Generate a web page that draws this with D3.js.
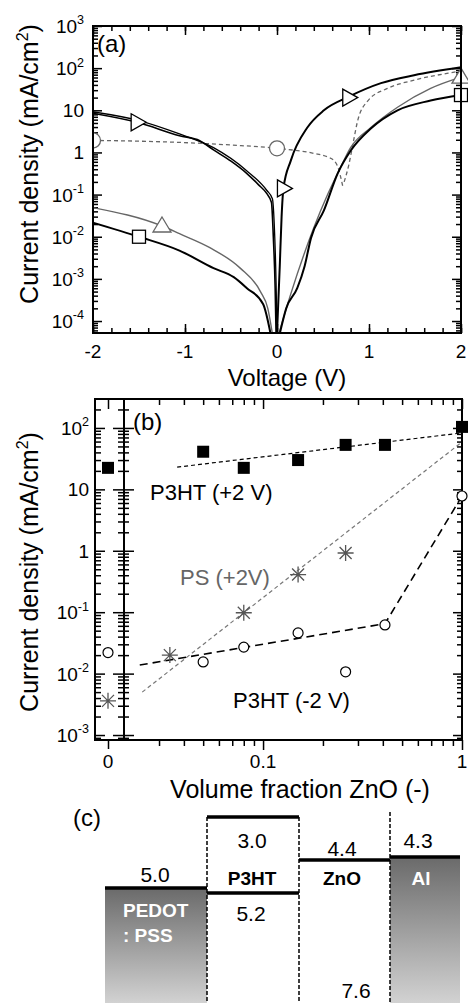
<!DOCTYPE html>
<html><head><meta charset="utf-8">
<script src="https://cdn.jsdelivr.net/npm/d3@7/dist/d3.min.js"></script>
<style>
html,body{margin:0;padding:0;background:#fff;}
svg{display:block;font-family:"Liberation Sans",Arial,Helvetica,sans-serif;}
</style></head>
<body>
<svg id="chart" width="468" height="1003"></svg>
<script>
// ===== Panel (a): current density vs voltage =====
const voltTicks = [-2, -1, 0, 1, 2];
const voltTickLabels = ["-2", "-1", "0", "1", "2"];
const jTicksA = [1e-4, 1e-3, 1e-2, 1e-1, 1, 10, 100, 1000];
const jTickLabelsA = ["10^-4", "10^-3", "10^-2", "10^-1", "1", "10", "10^2", "10^3"];

// black curve with right-pointing triangles (two sweeps on the reverse side)
const triNeg = [[-2, 8.5], [-1.52, 5.2], [-1.06, 2.5], [-0.84, 1.9], [-0.69, 1.15], [-0.5, 0.62], [-0.33, 0.32], [-0.2, 0.17], [-0.11, 0.105], [-0.06, 0.065], [-0.04, 0.01], [-0.02, 0.0006], [-0.01, 5e-5]];
const triNeg2 = [[-2, 9.2], [-1.5, 5.7], [-1.06, 2.75], [-0.69, 1.3], [-0.33, 0.37], [-0.11, 0.125], [-0.05, 0.08], [-0.03, 0.02], [-0.01, 0.0008], [0.0, 5e-5]];
const triPos = [[0.0, 5e-5], [0.03, 0.002], [0.05, 0.03], [0.07, 0.14], [0.15, 0.64], [0.33, 3.9], [0.51, 10], [0.78, 21], [1.13, 44], [1.49, 68], [2, 105]];
const triMarks = [[-1.52, 5.2], [0.07, 0.14], [0.78, 20]];

// black curve with squares
const sqNeg = [[-2, 0.0216], [-1.5, 0.01], [-1.06, 0.0047], [-0.69, 0.0018], [-0.47, 0.0011], [-0.33, 6.1e-4], [-0.15, 2.5e-4], [-0.07, 5e-5]];
const sqPos = [[0.03, 5e-5], [0.1, 2e-4], [0.22, 6e-4], [0.3, 0.002], [0.37, 0.0094], [0.51, 0.042], [0.66, 0.32], [0.8, 1.1], [1.02, 3.7], [1.31, 10], [1.67, 17], [2, 23]];
const sqMarks = [[-1.5, 0.01], [2, 23]];

// grey curve with up triangles
const gtriNeg = [[-2, 0.049], [-1.25, 0.018], [-1.06, 0.0118], [-0.73, 0.0055], [-0.4, 0.0018], [-0.18, 5e-4], [-0.1, 2e-4], [-0.05, 5e-5]];
const gtriPos = [[0.02, 5e-5], [0.15, 4.4e-4], [0.4, 0.0163], [0.55, 0.1], [0.69, 0.44], [0.8, 1.3], [1.02, 3.9], [1.31, 11.8], [1.67, 33], [2, 61]];
const gtriMarks = [[-1.25, 0.018], [2, 61]];

// grey dashed curve with circles
const circNeg = [[-2, 1.93], [-1.5, 1.85], [-1.06, 1.73], [-0.5, 1.5], [0, 1.25], [0.4, 0.95], [0.55, 0.78], [0.62, 0.64], [0.67, 0.4], [0.7, 0.22], [0.72, 0.14]];
const circPos = [[0.73, 0.2], [0.78, 0.5], [0.83, 1.8], [0.88, 6], [0.99, 17], [1.2, 33], [1.49, 52], [1.86, 76], [2, 85]];
const circMarks = [[-2, 1.93], [0, 1.25]];

// ===== Panel (b): current density vs ZnO volume fraction =====
const fracTicks = [0.1, 1];
const fracTickLabels = ["0.1", "1"];
const zeroCategory = ["0"];
const jTicksB = [1e-3, 1e-2, 1e-1, 1, 10, 100];
const jTickLabelsB = ["10^-3", "10^-2", "10^-1", "1", "10", "10^2"];

const fracZnO = [0.05, 0.08, 0.15, 0.26, 0.41, 1];
const p3htPlus2 = [41, 22.4, 30, 53, 53, 104];
const p3htMinus2 = [0.0155, 0.027, 0.046, 0.0107, 0.062, 7.8];
const p3htPlus2Zero = 22.4;
const p3htMinus2Zero = 0.022;
const psFrac = [0.034, 0.08, 0.15, 0.26];
const psPlus2 = [0.02, 0.098, 0.41, 0.92];
const psPlus2Zero = 0.0036;
const fitP3htPlus = [[0.037, 23], [1, 83]];
const fitP3htMinus = [[0.024, 0.0138], [0.41, 0.065], [1, 7.8]];
const fitPS = [[0.0247, 0.005], [1, 59]];

// ===== Panel (c): energy levels (eV) =====
const layers = ["PEDOT:PSS", "P3HT", "ZnO", "Al"];
const upperLevel = [5.0, 3.0, 4.4, 4.3];
const lowerLevel = [null, 5.2, 7.6, null];
const levelLabels = ["5.0", "3.0", "4.4", "4.3"];
const lowerLabels = [null, "5.2", "7.6", null];

// ================= drawing =================
const svg = d3.select("#chart");
const defs = svg.append("defs");

function minorLog(scale) {
  const [a, b] = scale.domain();
  const out = [];
  for (let e = Math.floor(Math.log10(a)); e <= Math.ceil(Math.log10(b)); e++)
    for (let k = 2; k <= 9; k++) { const v = k * Math.pow(10, e); if (v >= a && v <= b) out.push(v); }
  return out;
}
function styleAxis(g) {
  g.select(".domain").remove();
  g.selectAll(".tick line").attr("stroke", "#000").attr("stroke-width", 1.5);
}
function powLabel(g, x, y, label, size) {
  const parts = label.split("^");
  const t = g.append("text").attr("x", x).attr("y", y).attr("text-anchor", "end")
    .style("font-size", size + "px").attr("fill", "#000");
  t.append("tspan").text(parts[0]);
  if (parts[1]) t.append("tspan").attr("dy", -size * 0.45).style("font-size", (size * 0.66) + "px").text(parts[1]);
}
function yTitle(x, y) {
  const t = svg.append("text").attr("transform", `translate(${x},${y}) rotate(-90)`)
    .attr("text-anchor", "middle").style("font-size", "25px");
  t.append("tspan").text("Current density (mA/cm");
  t.append("tspan").attr("dy", -10).style("font-size", "16px").text("2");
  t.append("tspan").attr("dy", 10).text(")");
}

// ---------- Panel (a) ----------
const xA = d3.scaleLinear().domain([-2, 2]).range([93, 461]);
const yA = d3.scaleLog().domain([5.2e-5, 1000]).range([333, 26]);
const gA = svg.append("g");
const voltMinor = d3.range(-20, 21, 2).map(v => v / 10);

gA.append("g").attr("transform", `translate(${xA.range()[0]},0)`).call(d3.axisRight(yA).tickValues(jTicksA).tickSize(9).tickFormat("")).call(styleAxis);
gA.append("g").attr("transform", `translate(${xA.range()[0]},0)`).call(d3.axisRight(yA).tickValues(minorLog(yA)).tickSize(5).tickFormat("")).call(styleAxis);
gA.append("g").attr("transform", `translate(${xA.range()[1]},0)`).call(d3.axisLeft(yA).tickValues(jTicksA).tickSize(9).tickFormat("")).call(styleAxis);
gA.append("g").attr("transform", `translate(${xA.range()[1]},0)`).call(d3.axisLeft(yA).tickValues(minorLog(yA)).tickSize(5).tickFormat("")).call(styleAxis);
gA.append("g").attr("transform", `translate(0,${yA.range()[0]})`).call(d3.axisTop(xA).tickValues(voltTicks).tickSize(9).tickFormat("")).call(styleAxis);
gA.append("g").attr("transform", `translate(0,${yA.range()[0]})`).call(d3.axisTop(xA).tickValues(voltMinor).tickSize(5).tickFormat("")).call(styleAxis);
gA.append("g").attr("transform", `translate(0,${yA.range()[1]})`).call(d3.axisBottom(xA).tickValues(voltTicks).tickSize(9).tickFormat("")).call(styleAxis);
gA.append("g").attr("transform", `translate(0,${yA.range()[1]})`).call(d3.axisBottom(xA).tickValues(voltMinor).tickSize(5).tickFormat("")).call(styleAxis);

jTicksA.forEach((v, i) => powLabel(gA, 84, yA(v) + 7, jTickLabelsA[i], 19));
voltTicks.forEach((v, i) => gA.append("text").attr("x", xA(v)).attr("y", 358).attr("text-anchor", "middle").style("font-size", "19px").text(voltTickLabels[i]));

defs.append("clipPath").attr("id", "clipA").append("rect").attr("x", 94).attr("y", 26).attr("width", 378).attr("height", 307);
const plotA = gA.append("g").attr("clip-path", "url(#clipA)");
const lineA = d3.line().x(d => xA(d[0])).y(d => yA(d[1])).curve(d3.curveMonotoneX);

const curveStyles = [
  [circNeg, "#666", 1.3, "4,3"], [circPos, "#666", 1.3, "4,3"],
  [gtriNeg, "#666", 1.4, null], [gtriPos, "#666", 1.4, null],
  [sqNeg, "#000", 2, null], [sqPos, "#000", 2, null],
  [triNeg2, "#000", 1.3, null], [triNeg, "#000", 1.6, null], [triPos, "#000", 2, null]
];
curveStyles.forEach(([d, c, w, dash]) => {
  plotA.append("path").datum(d).attr("d", lineA).attr("fill", "none").attr("stroke", c)
    .attr("stroke-width", w).attr("stroke-dasharray", dash);
});
// markers
plotA.selectAll(".cm").data(circMarks).join("circle").attr("cx", d => xA(d[0])).attr("cy", d => yA(d[1]))
  .attr("r", 7.5).attr("fill", "#fff").attr("stroke", "#666").attr("stroke-width", 1.3);
plotA.selectAll(".gt").data(gtriMarks).join("path")
  .attr("d", d => { const x = xA(d[0]), y = yA(d[1]); return `M${x},${y - 9}L${x + 9},${y + 6}L${x - 9},${y + 6}Z`; })
  .attr("fill", "#fff").attr("stroke", "#666").attr("stroke-width", 1.3);
plotA.selectAll(".sq").data(sqMarks).join("rect").attr("x", d => xA(d[0]) - 6.5).attr("y", d => yA(d[1]) - 6.5)
  .attr("width", 13).attr("height", 13).attr("fill", "#fff").attr("stroke", "#000").attr("stroke-width", 1.3);
plotA.selectAll(".tr").data(triMarks).join("path")
  .attr("d", d => { const x = xA(d[0]), y = yA(d[1]); return `M${x - 6},${y - 8.5}L${x + 9},${y}L${x - 6},${y + 8.5}Z`; })
  .attr("fill", "#fff").attr("stroke", "#000").attr("stroke-width", 1.3);

gA.append("rect").attr("x", 93).attr("y", 26).attr("width", 368).attr("height", 307).attr("fill", "none").attr("stroke", "#000").attr("stroke-width", 2);
gA.append("text").attr("x", 97).attr("y", 52).style("font-size", "24px").text("(a)");
gA.append("text").attr("x", 287).attr("y", 386).attr("text-anchor", "middle").style("font-size", "24px").text("Voltage (V)");
yTitle(38, 164);

// ---------- Panel (b) ----------
const xB = d3.scaleLog().domain([0.02, 1]).range([124, 462]);
const xB0 = d3.scalePoint().domain(zeroCategory).range([92, 124]).padding(0.5);
const yB = d3.scaleLog().domain([8.3e-4, 296]).range([740, 399]);
const gB = svg.append("g");
const fracMinor = minorLog(xB).filter(v => v > 0.02);

gB.append("g").attr("transform", "translate(95,0)").call(d3.axisRight(yB).tickValues(jTicksB).tickSize(10).tickFormat("")).call(styleAxis);
gB.append("g").attr("transform", "translate(95,0)").call(d3.axisRight(yB).tickValues(minorLog(yB)).tickSize(6).tickFormat("")).call(styleAxis);
gB.append("g").attr("transform", `translate(${xB.range()[0]},0)`).call(d3.axisLeft(yB).tickValues(jTicksB).tickSize(11).tickFormat("")).call(styleAxis);
gB.append("g").attr("transform", `translate(${xB.range()[0]},0)`).call(d3.axisRight(yB).tickValues(jTicksB).tickSize(10).tickFormat("")).call(styleAxis);
gB.append("g").attr("transform", `translate(${xB.range()[0]},0)`).call(d3.axisLeft(yB).tickValues(minorLog(yB)).tickSize(6).tickFormat("")).call(styleAxis);
gB.append("g").attr("transform", `translate(${xB.range()[0]},0)`).call(d3.axisRight(yB).tickValues(minorLog(yB)).tickSize(5).tickFormat("")).call(styleAxis);
gB.append("g").attr("transform", `translate(${xB.range()[1]},0)`).call(d3.axisLeft(yB).tickValues(jTicksB).tickSize(9).tickFormat("")).call(styleAxis);
gB.append("g").attr("transform", `translate(${xB.range()[1]},0)`).call(d3.axisLeft(yB).tickValues(minorLog(yB)).tickSize(5).tickFormat("")).call(styleAxis);
// top (inward) and bottom (outward)
gB.append("g").attr("transform", `translate(0,${yB.range()[1]})`).call(d3.axisBottom(xB).tickValues(fracTicks).tickSize(10).tickFormat("")).call(styleAxis);
gB.append("g").attr("transform", `translate(0,${yB.range()[1]})`).call(d3.axisBottom(xB).tickValues(fracMinor).tickSize(6).tickFormat("")).call(styleAxis);
gB.append("g").attr("transform", `translate(0,${yB.range()[1]})`).call(d3.axisBottom(xB0).tickSize(10).tickFormat("")).call(styleAxis);
gB.append("g").attr("transform", `translate(0,${yB.range()[0]})`).call(d3.axisBottom(xB).tickValues(fracTicks).tickSize(10).tickFormat("")).call(styleAxis);
gB.append("g").attr("transform", `translate(0,${yB.range()[0]})`).call(d3.axisBottom(xB).tickValues(fracMinor).tickSize(6).tickFormat("")).call(styleAxis);
gB.append("g").attr("transform", `translate(0,${yB.range()[0]})`).call(d3.axisBottom(xB0).tickSize(9).tickFormat("")).call(styleAxis);

gB.append("line").attr("x1", xB.range()[0]).attr("x2", xB.range()[0]).attr("y1", 399).attr("y2", 740).attr("stroke", "#000").attr("stroke-width", 2);
gB.append("rect").attr("x", 95).attr("y", 399).attr("width", 367).attr("height", 341).attr("fill", "none").attr("stroke", "#000").attr("stroke-width", 2);

jTicksB.forEach((v, i) => powLabel(gB, 89, yB(v) + 7, jTickLabelsB[i], 19));
gB.append("text").attr("x", xB0("0")).attr("y", 768).attr("text-anchor", "middle").style("font-size", "19px").text(zeroCategory[0]);
fracTicks.forEach((v, i) => gB.append("text").attr("x", xB(v)).attr("y", 768).attr("text-anchor", "middle").style("font-size", "19px").text(fracTickLabels[i]));

const lineB = d3.line().x(d => xB(d[0])).y(d => yB(d[1]));
gB.append("path").datum(fitPS).attr("d", lineB).attr("fill", "none").attr("stroke", "#777").attr("stroke-width", 1.2).attr("stroke-dasharray", "4,3");
gB.append("path").datum(fitP3htPlus).attr("d", lineB).attr("fill", "none").attr("stroke", "#000").attr("stroke-width", 1.2).attr("stroke-dasharray", "4,3");
gB.append("path").datum(fitP3htMinus).attr("d", lineB).attr("fill", "none").attr("stroke", "#000").attr("stroke-width", 1.6).attr("stroke-dasharray", "8,5");

const starPath = (x, y) => `M${x},${y - 8}L${x},${y + 8}M${x - 8},${y}L${x + 8},${y}M${x - 6},${y - 6}L${x + 6},${y + 6}M${x - 6},${y + 6}L${x + 6},${y - 6}`;
const psPts = psFrac.map((f, i) => [xB(f), yB(psPlus2[i])]).concat([[xB0("0"), yB(psPlus2Zero)]]);
gB.selectAll(".ps").data(psPts).join("path").attr("d", d => starPath(d[0], d[1]))
  .attr("stroke", "#555").attr("stroke-width", 1.3).attr("fill", "none");

const p3Pts = fracZnO.map((f, i) => [xB(f), yB(p3htPlus2[i])]).concat([[xB0("0"), yB(p3htPlus2Zero)]]);
gB.selectAll(".p3").data(p3Pts).join("rect").attr("x", d => d[0] - 6).attr("y", d => d[1] - 6)
  .attr("width", 12).attr("height", 12).attr("fill", "#000");

const p3mPts = fracZnO.map((f, i) => [xB(f), yB(p3htMinus2[i])]).concat([[xB0("0"), yB(p3htMinus2Zero)]]);
gB.selectAll(".p3m").data(p3mPts).join("circle").attr("cx", d => d[0]).attr("cy", d => d[1])
  .attr("r", 5).attr("fill", "#fff").attr("stroke", "#000").attr("stroke-width", 1.2);

gB.append("text").attr("x", 133).attr("y", 430).style("font-size", "24px").text("(b)");
gB.append("text").attr("x", 150).attr("y", 500).style("font-size", "22px").text("P3HT (+2 V)");
gB.append("text").attr("x", 180).attr("y", 585).style("font-size", "22px").attr("fill", "#666").text("PS (+2V)");
gB.append("text").attr("x", 233).attr("y", 708).style("font-size", "22px").text("P3HT (-2 V)");
gB.append("text").attr("x", 300).attr("y", 798).attr("text-anchor", "middle").style("font-size", "25px").text("Volume fraction ZnO (-)");
yTitle(38, 572);

// ---------- Panel (c) ----------
const eScale = d3.scaleLinear().domain([3.0, 4.4, 5.0, 5.2]).range([817, 860, 888, 893]);
const xC = d3.scaleOrdinal().domain([0, 1, 2, 3, 4]).range([105, 207, 299, 390, 460]);
const bottomC = 1003;
const grad = defs.append("linearGradient").attr("id", "metalGrad").attr("x1", 0).attr("y1", 0).attr("x2", 0).attr("y2", 1);
grad.append("stop").attr("offset", "0%").attr("stop-color", "#6a6a6a");
grad.append("stop").attr("offset", "100%").attr("stop-color", "#d2d2d2");
const gC = svg.append("g");

layers.forEach((name, i) => {
  const x0 = xC(i), x1 = xC(i + 1);
  const metal = lowerLevel[i] === null;
  if (metal) {
    gC.append("rect").attr("x", x0).attr("y", eScale(upperLevel[i])).attr("width", x1 - x0)
      .attr("height", bottomC - eScale(upperLevel[i])).attr("fill", "url(#metalGrad)");
  }
  gC.append("line").attr("x1", x0).attr("x2", x1).attr("y1", eScale(upperLevel[i])).attr("y2", eScale(upperLevel[i]))
    .attr("stroke", "#000").attr("stroke-width", 3.5);
  if (lowerLevel[i] !== null && lowerLevel[i] < 6) {
    gC.append("line").attr("x1", x0).attr("x2", x1).attr("y1", eScale(lowerLevel[i])).attr("y2", eScale(lowerLevel[i]))
      .attr("stroke", "#000").attr("stroke-width", 3.5);
  }
});
// dashed interfaces
[1, 2].forEach(i => gC.append("line").attr("x1", xC(i)).attr("x2", xC(i)).attr("y1", eScale(3.0)).attr("y2", bottomC)
  .attr("stroke", "#000").attr("stroke-width", 1.5).attr("stroke-dasharray", "4,2"));
gC.append("line").attr("x1", xC(3)).attr("x2", xC(3)).attr("y1", 812).attr("y2", bottomC)
  .attr("stroke", "#000").attr("stroke-width", 1.5).attr("stroke-dasharray", "4,2");

const numStyle = s => s.style("font-size", "21px").attr("text-anchor", "middle");
// level labels
gC.append("text").attr("x", 155).attr("y", 882).call(numStyle).text(levelLabels[0]);
gC.append("text").attr("x", 252).attr("y", 848).call(numStyle).text(levelLabels[1]);
gC.append("text").attr("x", 342).attr("y", 856).call(numStyle).text(levelLabels[2]);
gC.append("text").attr("x", 418).attr("y", 848).call(numStyle).text(levelLabels[3]);
gC.append("text").attr("x", 251).attr("y", 921).call(numStyle).text(lowerLabels[1]);
gC.append("text").attr("x", 356).attr("y", 998).call(numStyle).text(lowerLabels[2]);
// layer names
const nameStyle = s => s.style("font-size", "19px").style("font-weight", "bold");
gC.append("text").attr("x", 123).attr("y", 917).call(nameStyle).attr("fill", "#fff").text("PEDOT");
gC.append("text").attr("x", 123).attr("y", 942).call(nameStyle).attr("fill", "#fff").text(": PSS");
gC.append("text").attr("x", 252).attr("y", 885).attr("text-anchor", "middle").call(nameStyle).text(layers[1]);
gC.append("text").attr("x", 342).attr("y", 885).attr("text-anchor", "middle").call(nameStyle).text(layers[2]);
gC.append("text").attr("x", 421).attr("y", 885).attr("text-anchor", "middle").call(nameStyle).attr("fill", "#fff").text(layers[3]);
gC.append("text").attr("x", 73).attr("y", 826).style("font-size", "24px").text("(c)");
</script>
</body></html>
